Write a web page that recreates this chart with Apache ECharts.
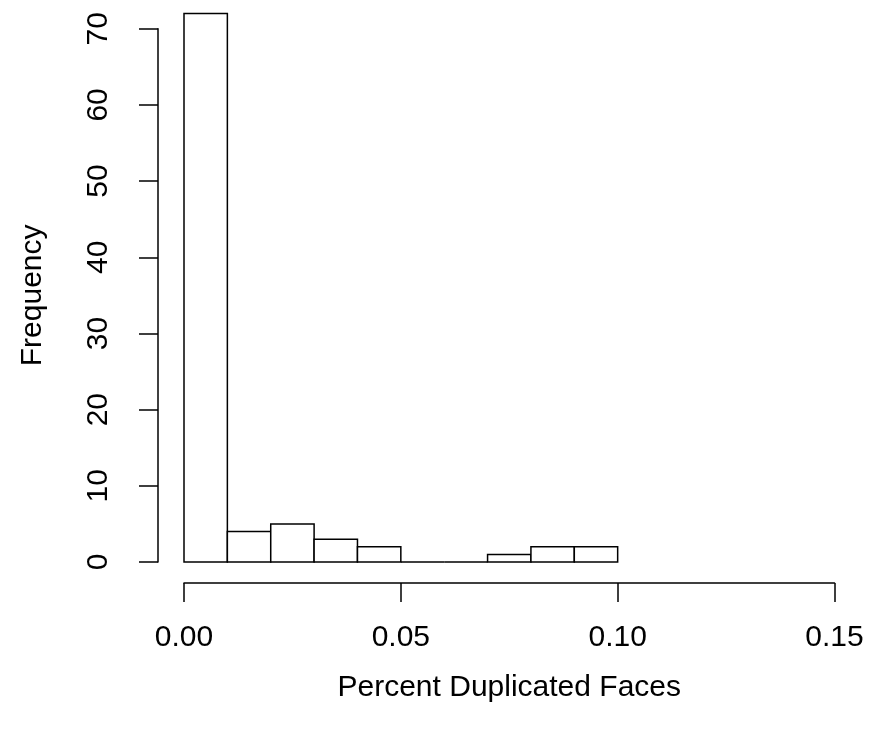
<!DOCTYPE html>
<html>
<head>
<meta charset="utf-8">
<script src="https://cdn.jsdelivr.net/npm/echarts@6/dist/echarts.min.js"></script>
<style>
  html, body { margin: 0; padding: 0; background: #fff; }
  #chart { width: 873px; height: 738px; }
</style>
</head>
<body>
<div id="chart"></div>
<script>
// histogram bins (left edge, right edge) and counts
const binLeft = [0.00, 0.01, 0.02, 0.03, 0.04, 0.05, 0.06, 0.07, 0.08, 0.09];
const binRight = [0.01, 0.02, 0.03, 0.04, 0.05, 0.06, 0.07, 0.08, 0.09, 0.10];
const counts = [72, 4, 5, 3, 2, 0, 0, 1, 2, 2];

const xTicks = [0, 0.05, 0.10, 0.15];
const yTicks = [0, 10, 20, 30, 40, 50, 60, 70];

const font = "Liberation Sans, Arial, sans-serif";
const chart = echarts.init(document.getElementById("chart"), null, { renderer: "canvas" });

const option = {
  backgroundColor: "#fff",
  animation: false,
  grid: { left: 184, right: 38.5, top: 28.7, bottom: 176 },
  xAxis: {
    type: "value",
    min: xTicks[0],
    max: xTicks[xTicks.length - 1],
    interval: 0.05,
    offset: 21,
    name: "Percent Duplicated Faces",
    nameLocation: "middle",
    nameGap: 90,
    nameTextStyle: { color: "#000", fontSize: 30, fontFamily: font },
    axisLine: { show: true, onZero: false, lineStyle: { color: "#000", width: 1.5 } },
    axisTick: { show: true, length: 19, lineStyle: { color: "#000", width: 1.5 } },
    axisLabel: {
      color: "#000", fontSize: 30, fontFamily: font, margin: 40,
      formatter: v => v.toFixed(2)
    },
    splitLine: { show: false }
  },
  yAxis: {
    type: "value",
    min: yTicks[0],
    max: yTicks[yTicks.length - 1],
    interval: 10,
    offset: 26,
    name: "Frequency",
    nameLocation: "middle",
    nameGap: 110,
    nameRotate: 90,
    nameTextStyle: { color: "#000", fontSize: 30, fontFamily: font },
    axisLine: { show: true, onZero: false, lineStyle: { color: "#000", width: 1.5 } },
    axisTick: { show: true, length: 19, lineStyle: { color: "#000", width: 1.5 } },
    axisLabel: { color: "#000", fontSize: 30, fontFamily: font, margin: 44, rotate: 90 },
    splitLine: { show: false }
  },
  series: [{
    type: "custom",
    clip: false,
    data: counts.map((c, i) => [binLeft[i], binRight[i], c]),
    renderItem: (params, api) => {
      const p0 = api.coord([api.value(0), 0]);
      const p1 = api.coord([api.value(1), api.value(2)]);
      return {
        type: "rect",
        shape: { x: p0[0], y: p1[1], width: p1[0] - p0[0], height: p0[1] - p1[1] },
        style: { fill: "#fff", stroke: "#000", lineWidth: 1.5 }
      };
    }
  }]
};
chart.setOption(option);
</script>
</body>
</html>
